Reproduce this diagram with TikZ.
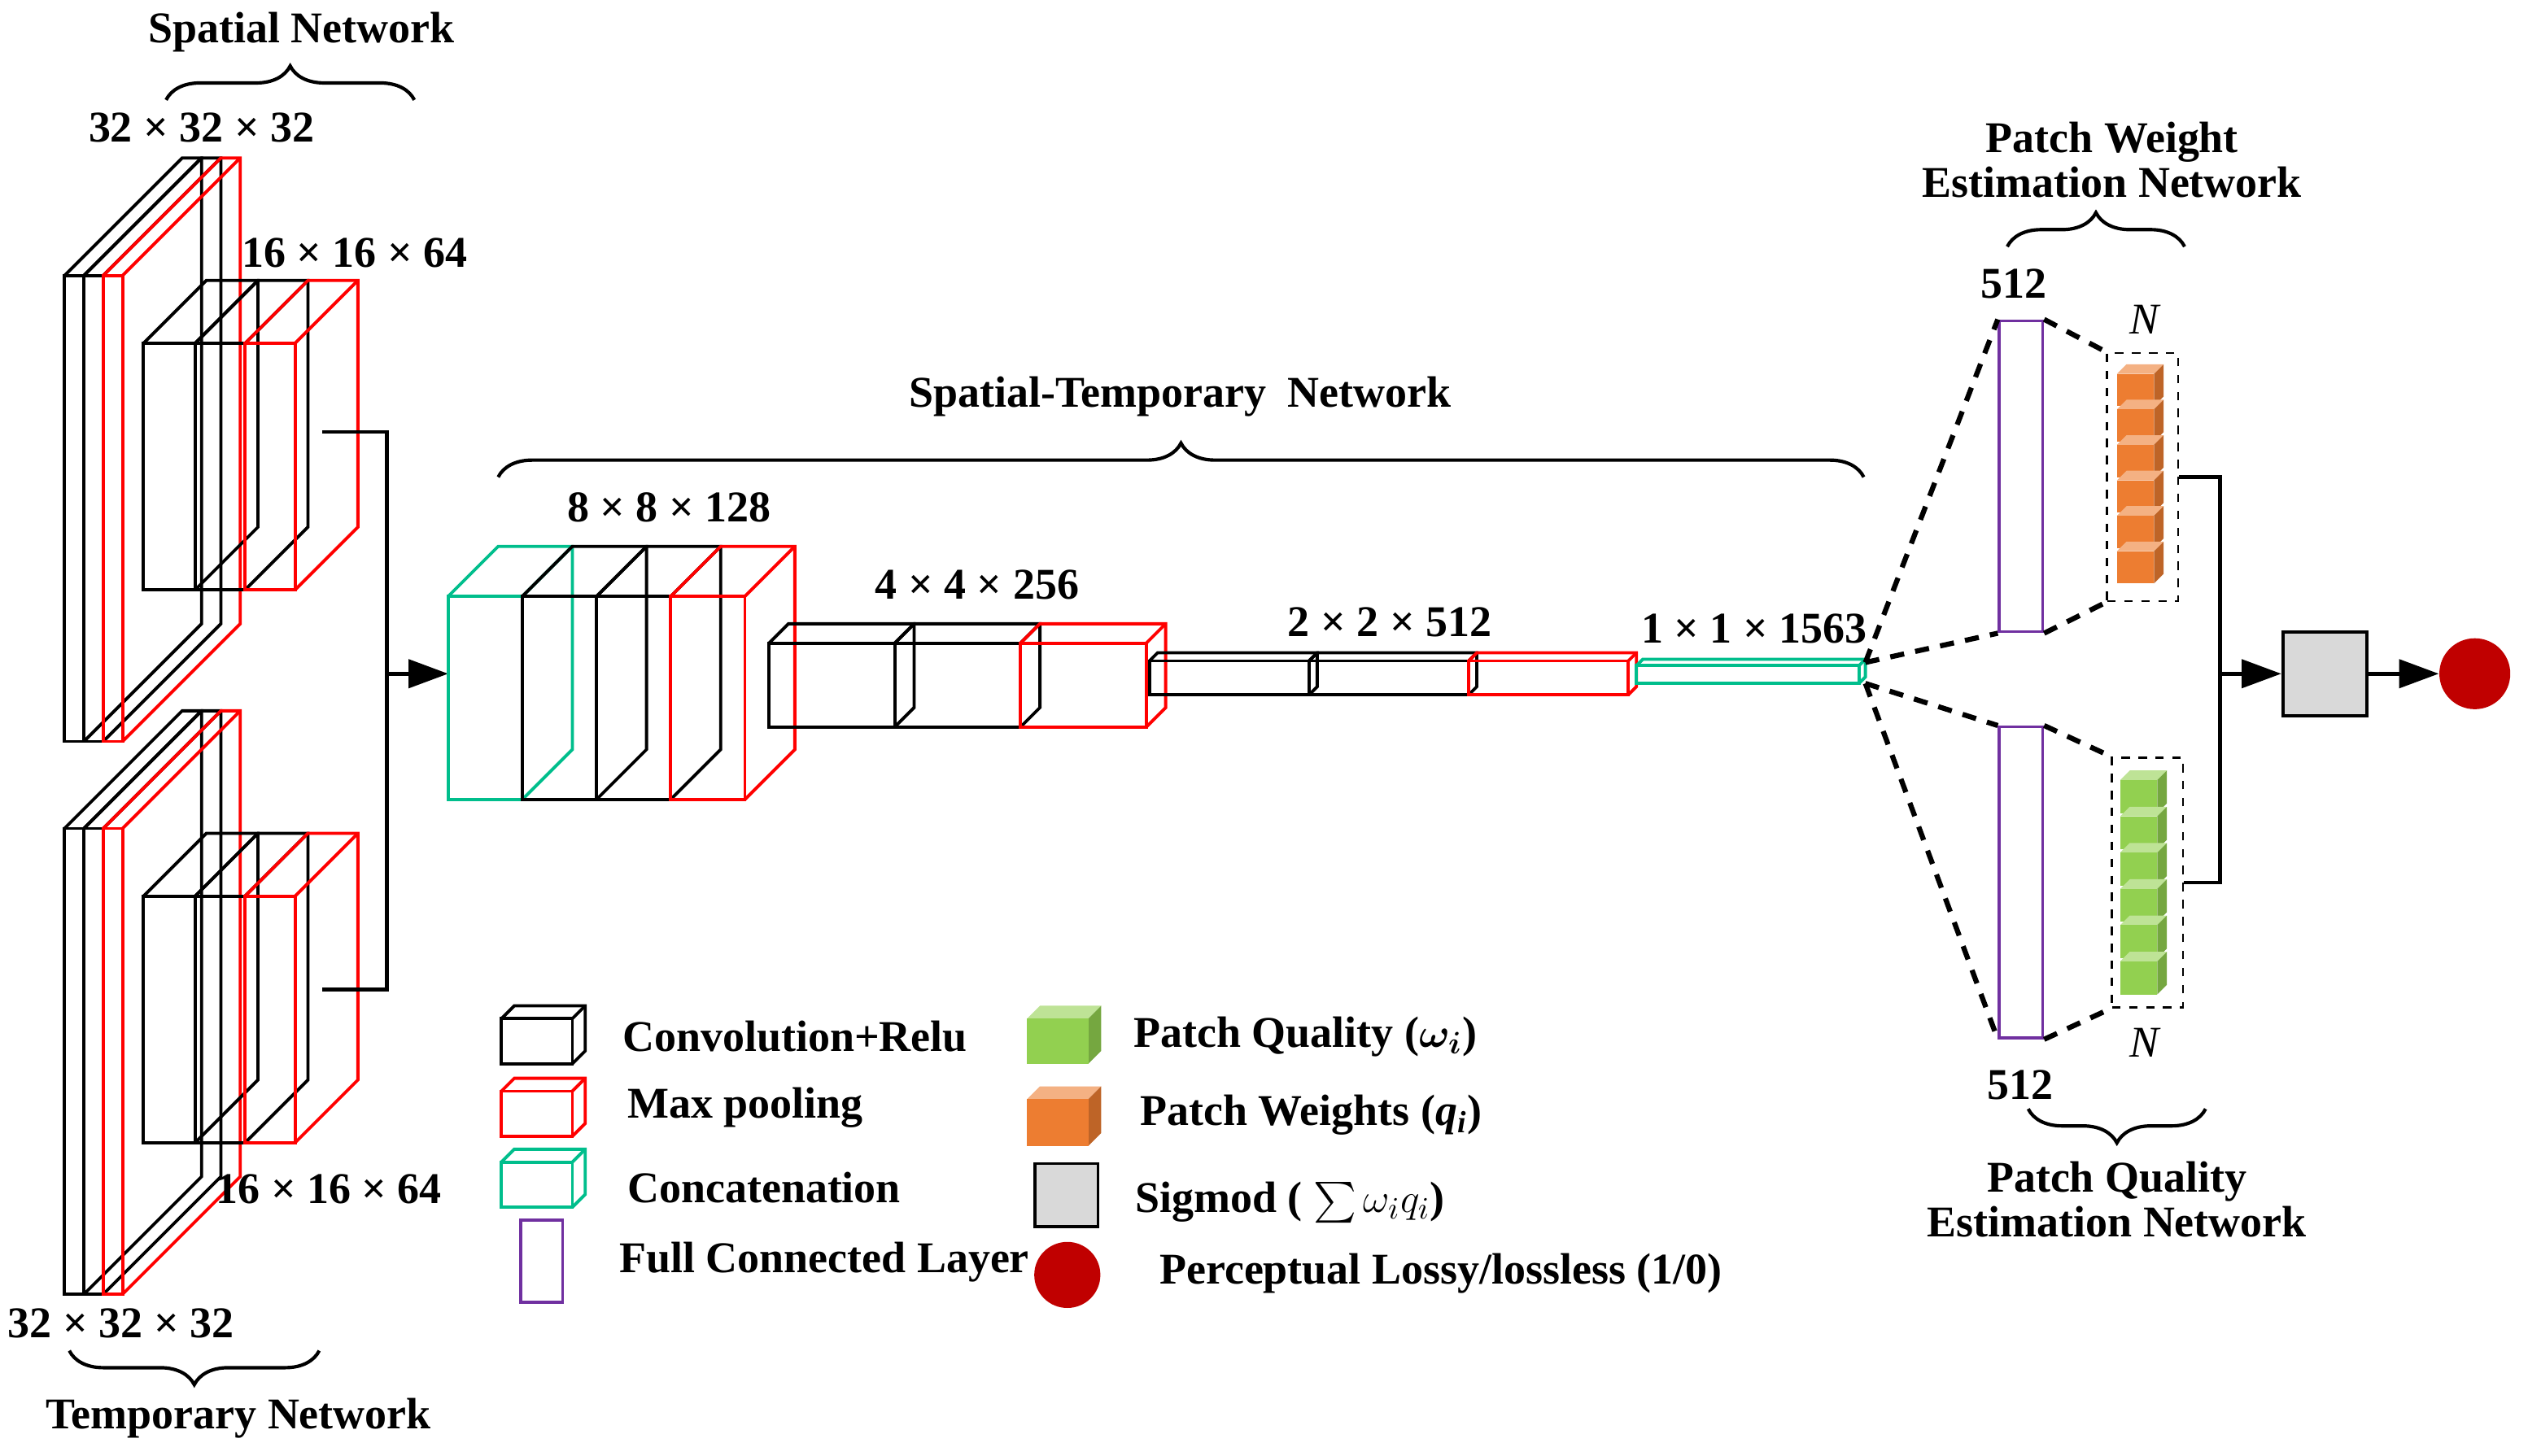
\documentclass[tikz,border=0pt]{standalone}
\usepackage{amsmath}
\usepackage{fontspec}
\setmainfont{Liberation Serif}
\usetikzlibrary{decorations.pathreplacing,arrows.meta}
\definecolor{cgreen}{RGB}{0,190,140}
\definecolor{cpurple}{RGB}{112,48,160}
\definecolor{corange}{RGB}{237,125,49}
\definecolor{cleaf}{RGB}{146,208,80}
\definecolor{cred}{RGB}{192,0,0}
\definecolor{cgrey}{RGB}{217,217,217}
% open cuboid: [colour]{x}{y}{w}{h}{d}
\newcommand{\opencube}[6][black]{%
  \draw[#1,line width=1.1pt] (#2,#3) rectangle ++(#4,#5);
  \draw[#1,line width=1.1pt] (#2,#3) -- ++(#6,-#6) -- ++(#4,0) -- ++(0,#5) -- ++(-#6,#6);
  \draw[#1,line width=1.1pt] (#2+#4,#3) -- ++(#6,-#6);}
% filled cuboid: {colour}{x}{y}{w}{h}{d}
\newcommand{\fullcube}[6]{%
  \fill[#1!60!white] (#2,#3) -- ++(#6,-#6) -- ++(#4,0) -- ++(-#6,#6) -- cycle;
  \fill[#1!80!black] (#2+#4,#3) -- ++(#6,-#6) -- ++(0,#5) -- ++(-#6,#6) -- cycle;
  \fill[#1] (#2,#3) rectangle ++(#4,#5);}
\tikzset{
  lbl/.style={font=\fontsize{15.5}{17}\selectfont\bfseries},
  key/.style={lbl, anchor=west},
  brc/.style={decorate, decoration={brace, amplitude=12}, line width=1.2pt},
  link/.style={line width=1.3pt},
  arr/.style={link, -{Triangle[length=14pt,width=10pt]}},
  fan/.style={dashed, line width=1.8pt, dash pattern=on 5pt off 4pt},
}
\begin{document}
\begin{tikzpicture}[x=0.02cm, y=-0.02cm]
\useasboundingbox (0,0) rectangle (1568,903);

% spatial and temporary stacks
\foreach \s in {0,343} {
  \opencube{40}{171+\s}{12}{289}{73}
  \opencube{52}{171+\s}{12}{289}{73}
  \opencube[red]{64}{171+\s}{12}{289}{73}
  \opencube{89}{213+\s}{32}{153}{39}
  \opencube{121}{213+\s}{31}{153}{39}
  \opencube[red]{152}{213+\s}{31}{153}{39}
}
\coordinate (sOut) at (200,268);
\coordinate (tOut) at (200,614);
\coordinate (join) at (240,418);
\coordinate (cIn) at (278,418);
\draw[link] (sOut) -| (join) |- (tOut);
\draw[arr] (join) -- (cIn);

% spatial-temporary network
\opencube[cgreen]{278}{370}{46}{126}{31}
\opencube{324}{370}{46}{126}{31}
\opencube{370}{370}{46}{126}{31}
\opencube[red]{416}{370}{46}{126}{31}
\opencube{477}{399}{78}{52}{12}
\opencube{555}{399}{78}{52}{12}
\opencube[red]{633}{399}{78}{52}{12}
\opencube{713}{410}{99}{21}{5}
\opencube{812}{410}{99}{21}{5}
\opencube[red]{911}{410}{99}{21}{5}
\opencube[cgreen]{1015}{413}{138}{11}{4}

% labels on the left part
\node[lbl] (spatial) at (187,20) {Spatial Network};
\draw[brc] (103,62) -- (257,62);
\node[lbl] (s32) at (125,79) {32 × 32 × 32};
\node[lbl] (s16) at (220,157) {16 × 16 × 64};
\node[lbl] (t16) at (204,738) {16 × 16 × 64};
\node[lbl] (t32) at (75,821) {32 × 32 × 32};
\draw[brc] (198,838) -- (43,838);
\node[lbl] (temporary) at (148,880) {Temporary Network};
\node[lbl] (spatialtemp) at (732,246) {Spatial-Temporary~~Network};
\draw[brc] (309,296) -- (1156,296);
\node[lbl] (d8) at (415,315) {8 × 8 × 128};
\node[lbl] (d4) at (606,363) {4 × 4 × 256};
\node[lbl] (d2) at (862,386) {2 × 2 × 512};
\node[lbl] (d1) at (1088,390) {1 × 1 × 1563};

% weight and quality branches
\node[draw=cpurple, line width=1pt, minimum width=0.54cm, minimum height=3.86cm, inner sep=0] (fcW) at (1253.5,295.5) {};
\node[draw=cpurple, line width=1pt, minimum width=0.54cm, minimum height=3.86cm, inner sep=0] (fcQ) at (1253.5,547.5) {};
\node[draw, dashed, line width=0.8pt, minimum width=0.88cm, minimum height=3.08cm, inner sep=0] (boxW) at (1329,296) {};
\node[draw, dashed, line width=0.8pt, minimum width=0.88cm, minimum height=3.1cm, inner sep=0] (boxQ) at (1332,547.5) {};
\foreach \k in {0,...,5} {
  \fullcube{corange}{1313}{232+\k*22}{23}{20}{6}
  \fullcube{cleaf}{1315}{484+\k*22.5}{23}{20.5}{6}
}
\coordinate (fanA) at (1157,411);
\coordinate (fanB) at (1157,424);
\draw[fan] (fanA) -- (fcW.north west);
\draw[fan] (fanA) -- (fcW.south west);
\draw[fan] (fanB) -- (fcQ.north west);
\draw[fan] (fanB) -- (fcQ.south west);
\draw[fan] (fcW.north east) -- (boxW.north west);
\draw[fan] (fcW.south east) -- (boxW.south west);
\draw[fan] (fcQ.north east) -- (boxQ.north west);
\draw[fan] (fcQ.south east) -- (boxQ.south west);

\node[draw, fill=cgrey, line width=1.2pt, minimum width=1.04cm, minimum height=1.04cm, inner sep=0] (sig) at (1442,418) {};
\node[circle, fill=cred, minimum size=0.88cm, inner sep=0] (out) at (1535,418) {};
\coordinate (merge) at (1377,418);
\draw[link] (boxW.east) -| (merge) |- (boxQ.east);
\draw[arr] (merge) -- (sig);
\draw[arr] (sig) -- (out);

\node[lbl] (pw1) at (1310,88) {Patch Weight};
\node[lbl] (pw2) at (1310,113) {Estimation Network};
\draw[brc] (1245,153) -- (1355,153);
\node[lbl] (w512) at (1249,176) {512};
\node[lbl, font=\fontsize{15.5}{17}\selectfont\itshape] (wN) at (1330,198) {N};
\node[lbl] (q512) at (1253,673) {512};
\node[lbl, font=\fontsize{15.5}{17}\selectfont\itshape] (qN) at (1330,647) {N};
\draw[brc] (1368,688) -- (1258,688);
\node[lbl] (pq1) at (1313,733) {Patch Quality};
\node[lbl] (pq2) at (1313,758) {Estimation Network};

% legend
\opencube{311}{632}{44}{28}{8}
\opencube[red]{311}{677}{44}{28}{8}
\opencube[cgreen]{311}{721}{44}{28}{8}
\node[draw=cpurple, line width=1pt, minimum width=0.52cm, minimum height=1.02cm, inner sep=0] (fcKey) at (336,782.5) {};
\fullcube{cleaf}{637}{632}{38}{28}{8}
\fullcube{corange}{637}{682}{38}{29}{8}
\node[draw, fill=cgrey, line width=1pt, minimum size=0.78cm, inner sep=0] (sigKey) at (661.5,741.5) {};
\node[circle, fill=cred, minimum size=0.82cm, inner sep=0] (outKey) at (662,791) {};
\node[key] (kConv) at (380,643) {Convolution+Relu};
\node[key] (kPool) at (383,687) {Max pooling};
\node[key] (kCat) at (383,737) {Concatenation};
\node[key] (kFc) at (378,783) {Full Connected Layer};
\node[key] (kQual) at (697,643) {Patch Quality ($\boldsymbol{\omega_i}$)};
\node[key] (kWeight) at (701,692) {Patch Weights (\textit{q\textsubscript{i}})};
\node[key] (kSig) at (698,746) {Sigmod ( $\sum\omega_i q_i$)};
\node[key] (kOut) at (713,790) {Perceptual Lossy/lossless (1/0)};
\end{tikzpicture}
\end{document}
